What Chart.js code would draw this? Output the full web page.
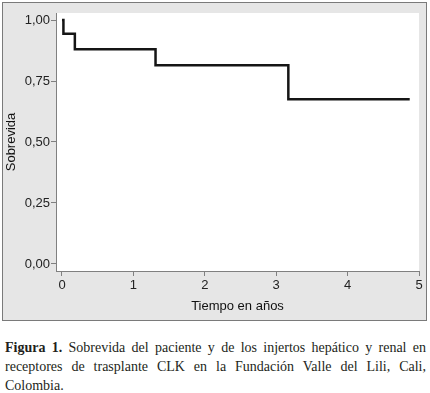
<!DOCTYPE html>
<html>
<head>
<meta charset="utf-8">
<script src="https://cdn.jsdelivr.net/npm/chart.js@4"></script>
<style>
  body { margin: 0; background: #fff; width: 430px; height: 393px; position: relative; overflow: hidden; }
  #panel { position: absolute; left: 2px; top: 2px; width: 423px; height: 317px; background: #e6e6e6; border: 1px solid #7a7a7a; }
  #chart { position: absolute; left: 0; top: 0; }
  .cap { position: absolute; left: 5px; width: 421px; font-family: "Liberation Serif", "DejaVu Serif", serif; font-size: 14px; color: #231f20; line-height: 19px; }
  .cap.j { text-align: justify; text-align-last: justify; white-space: nowrap; }
</style>
</head>
<body>
<div id="panel"></div>
<canvas id="chart" width="430" height="322"></canvas>
<div class="cap j" style="top:338px"><b>Figura 1.</b> Sobrevida del paciente y de los injertos hepático y renal en</div>
<div class="cap j" style="top:357px">receptores de trasplante CLK en la Fundación Valle del Lili, Cali,</div>
<div class="cap" style="top:376px">Colombia.</div>
<script>
// Kaplan-Meier curve
const times = [0, 0.02, 0.18, 1.31, 3.17, 4.87]
const survival = [1, 0.944, 0.88, 0.815, 0.675, 0.675]

const xTicks = [0, 1, 2, 3, 4, 5]
const yTicks = [0, 0.25, 0.5, 0.75, 1]

const points = times.map((t, i) => ({ x: t, y: survival[i] }))

const plotBg = {
  id: 'plotBg',
  beforeDraw(chart) {
    const { ctx, chartArea } = chart
    ctx.save()
    ctx.fillStyle = '#ffffff'
    ctx.fillRect(chartArea.left, chartArea.top, chartArea.right - chartArea.left, chartArea.bottom - chartArea.top)
    ctx.restore()
  }
}

const tickFont = { family: 'Liberation Sans, Arial, sans-serif', size: 13 }

new Chart(document.getElementById('chart'), {
  type: 'line',
  data: {
    datasets: [{
      data: points,
      stepped: 'before',
      borderColor: '#151515',
      borderWidth: 2.5,
      pointRadius: 0,
      fill: false
    }]
  },
  options: {
    responsive: false,
    animation: false,
    layout: { padding: { top: 13, right: 11, left: 0, bottom: 0 } },
    plugins: { legend: { display: false }, tooltip: { enabled: false } },
    scales: {
      x: {
        type: 'linear',
        min: -0.084,
        max: 5,
        afterBuildTicks: s => { s.ticks = xTicks.map(v => ({ value: v })) },
        afterFit: s => { s.height = 51 },
        grid: { drawOnChartArea: false, tickLength: 5, color: '#808080' },
        border: { color: '#808080', width: 1 },
        ticks: { color: '#222', font: tickFont, padding: 2, maxRotation: 0 },
        title: { display: true, text: 'Tiempo en años', color: '#111', font: { family: 'Liberation Sans, Arial, sans-serif', size: 13 }, padding: { top: 0, bottom: 8 } }
      },
      y: {
        min: -0.029,
        max: 1.029,
        afterBuildTicks: s => { s.ticks = yTicks.map(v => ({ value: v })) },
        afterFit: s => { s.width = 56 },
        grid: { drawOnChartArea: false, tickLength: 5, color: '#808080' },
        border: { color: '#808080', width: 1 },
        ticks: { color: '#222', font: tickFont, padding: 1, callback: v => v.toFixed(2).replace('.', ',') },
        title: { display: true, text: 'Sobrevida', color: '#111', font: { family: 'Liberation Sans, Arial, sans-serif', size: 13 }, padding: { top: 4, bottom: 0 } }
      }
    }
  },
  plugins: [plotBg]
})
</script>
</body>
</html>
